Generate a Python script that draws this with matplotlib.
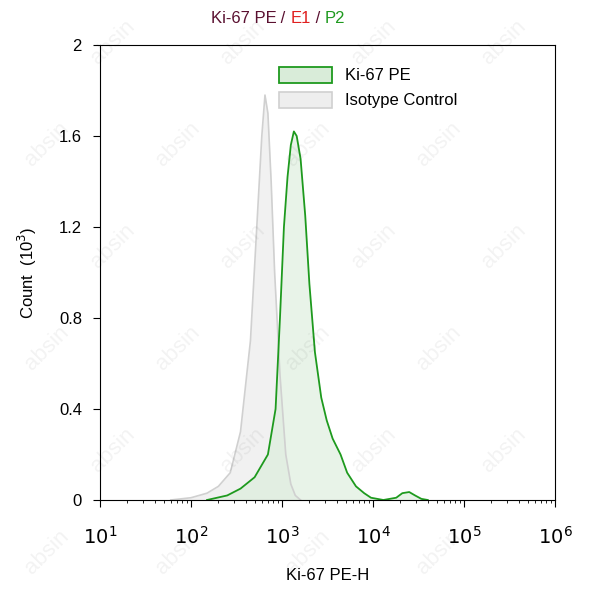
import numpy as np
import matplotlib
matplotlib.use("Agg")
import matplotlib.pyplot as plt
from matplotlib.ticker import NullFormatter
from matplotlib.patches import Patch

plt.rcParams['font.family'] = ['Liberation Sans', 'DejaVu Sans']

# Ki-67 PE histogram (x in PE-H units, y in 10^3 counts)
ki_x = [150, 250, 350, 500, 700, 850, 950, 1050, 1150, 1250, 1350, 1450, 1600, 1800, 2000, 2300, 2700, 3100, 3600, 4400, 5200, 6500, 8000, 9500, 13000, 18000, 21000, 25000, 29000, 34000, 40000]
ki_y = [0.0, 0.02, 0.05, 0.1, 0.2, 0.4, 0.8, 1.2, 1.42, 1.56, 1.62, 1.6, 1.5, 1.25, 0.95, 0.65, 0.45, 0.35, 0.27, 0.2, 0.12, 0.06, 0.03, 0.01, 0.0, 0.01, 0.03, 0.035, 0.02, 0.005, 0.0]
# Isotype control
iso_x = [60, 100, 150, 200, 270, 350, 450, 520, 600, 650, 700, 760, 830, 950, 1100, 1250, 1400, 1600]
iso_y = [0.0, 0.01, 0.03, 0.06, 0.12, 0.3, 0.7, 1.15, 1.6, 1.78, 1.7, 1.4, 1.0, 0.55, 0.2, 0.07, 0.02, 0.0]

fig = plt.figure(figsize=(5.93, 6.0), dpi=100)
ax = fig.add_axes([100/593, 100/600, 455/593, 455/600])

ax.fill_between(iso_x, iso_y, color='#e8e8e8', alpha=0.6, lw=0)
ax.plot(iso_x, iso_y, color='#d0d0d0', lw=1.2)
ax.fill_between(ki_x, ki_y, color='#d9ecd9', alpha=0.6, lw=0)
ax.plot(ki_x, ki_y, color='#1e9a1e', lw=1.3)

ax.set_xscale('log')
ax.set_xlim(10, 1e6)
ax.set_ylim(0, 2)
ax.set_yticks([0, 0.4, 0.8, 1.2, 1.6, 2])
ax.set_yticklabels(['0', '0.4', '0.8', '1.2', '1.6', '2'], fontsize=12)
ax.set_xticks([10, 100, 1e3, 1e4, 1e5, 1e6])
ax.set_xticklabels([r'$10^1$', r'$10^2$', r'$10^3$', r'$10^4$', r'$10^5$', r'$10^6$'], fontsize=14)
ax.xaxis.set_minor_formatter(NullFormatter())
ax.tick_params(direction='out', length=5)
ax.tick_params(axis='x', pad=14)
ax.tick_params(axis='y', pad=8)
ax.set_xlabel('Ki-67 PE-H', fontsize=12, labelpad=14)
ax.set_ylabel(r'Count  (10$^3$)', fontsize=12, labelpad=14)

h = [Patch(facecolor='#d9ecd9', edgecolor='#1e9a1e', lw=1.3, label='Ki-67 PE'),
     Patch(facecolor='#eeeeee', edgecolor='#d0d0d0', lw=1.2, label='Isotype Control')]
ax.legend(handles=h, loc='upper left', bbox_to_anchor=(0.36, 0.985), frameon=False, fontsize=12, handlelength=3.2, handleheight=1.1)

# title with coloured parts
parts = [('Ki-67 PE', '#5a1030'), (' / ', '#5a1030'), ('E1', '#e02020'), (' / ', '#5a1030'), ('P2', '#1e9a1e')]
fig.canvas.draw()
r = fig.canvas.get_renderer()
x0 = 0.355
for s, c in parts:
    t = fig.text(x0, 0.962, s, color=c, fontsize=12, ha='left')
    bb = t.get_window_extent(renderer=r)
    x0 += bb.width / fig.bbox.width

# watermarks
for i, yy in enumerate(np.arange(0.08, 0.95, 0.17)):
    for xx in np.arange(0.08 + (i % 2) * 0.11, 0.95, 0.22):
        fig.text(xx, yy, 'absin', rotation=45, fontsize=16, color='#000000', alpha=0.05, ha='center', va='center')

fig.savefig('out.png', dpi=100)
